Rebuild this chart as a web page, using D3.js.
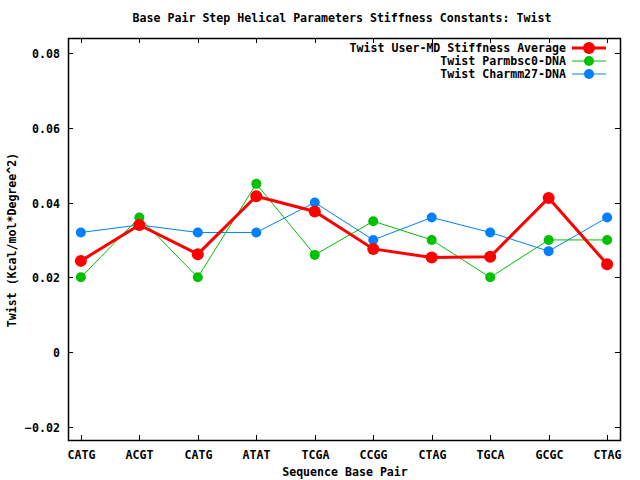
<!DOCTYPE html>
<html>
<head>
  <meta charset="utf-8">
  <style>
    body { margin: 0; background: #fff; }
    text { font-family: "DejaVu Sans Mono", monospace; font-weight: bold; font-size: 11.6px; fill: #000; }
  </style>
</head>
<body>
  <script src="https://cdn.jsdelivr.net/npm/d3@7"></script>
  <script>
    // chart data
    var categories = ["CATG", "ACGT", "CATG", "ATAT", "TCGA", "CCGG", "CTAG", "TGCA", "GCGC", "CTAG"];
    var userAvg   = [0.0244, 0.0340, 0.0262, 0.0417, 0.0376, 0.0276, 0.0253, 0.0255, 0.0412, 0.0235];
    var parmbsc0  = [0.020, 0.036, 0.020, 0.045, 0.026, 0.035, 0.030, 0.020, 0.030, 0.030];
    var charmm27  = [0.032, 0.034, 0.032, 0.032, 0.040, 0.030, 0.036, 0.032, 0.027, 0.036];
    var yTicks = [-0.02, 0, 0.02, 0.04, 0.06, 0.08];

    var series = [
      {name: "Twist User-MD Stiffness Average", values: userAvg, color: "#ff0000", width: 3, r: 6},
      {name: "Twist Parmbsc0-DNA", values: parmbsc0, color: "#00c000", width: 1, r: 5},
      {name: "Twist Charmm27-DNA", values: charmm27, color: "#0080ff", width: 1, r: 5}
    ];

    var width = 640, height = 480;
    var margin = {top: 38, right: 20, bottom: 40, left: 68};

    var svg = d3.select("body").append("svg")
      .attr("width", width)
      .attr("height", height);

    var x = d3.scaleLinear().domain([-0.22, categories.length - 1 + 0.22])
      .range([margin.left, width - margin.right]);
    var y = d3.scaleLinear().domain([-0.0235, 0.084])
      .range([height - margin.bottom, margin.top]);

    var x0 = margin.left, x1 = width - margin.right;
    var y0 = height - margin.bottom, y1 = margin.top;

    // ticks (inward, mirrored)
    var tk = svg.append("g").attr("stroke", "#000").attr("stroke-width", 1);
    yTicks.forEach(function(t) {
      var yy = Math.round(y(t)) + 0.5;
      tk.append("line").attr("x1", x0).attr("x2", x0 + 5).attr("y1", yy).attr("y2", yy);
      tk.append("line").attr("x1", x1).attr("x2", x1 - 5).attr("y1", yy).attr("y2", yy);
      svg.append("text").attr("x", 60).attr("y", yy + 4)
        .attr("text-anchor", "end").text(d3.format("")(t));
    });
    categories.forEach(function(c, i) {
      var xx = Math.round(x(i)) + 0.5;
      tk.append("line").attr("x1", xx).attr("x2", xx).attr("y1", y0).attr("y2", y0 - 5);
      tk.append("line").attr("x1", xx).attr("x2", xx).attr("y1", y1).attr("y2", y1 + 5);
      svg.append("text").attr("x", xx).attr("y", 459)
        .attr("text-anchor", "middle").text(c);
    });

    // border
    svg.append("rect")
      .attr("x", x0 + 0.5).attr("y", y1 + 0.5)
      .attr("width", x1 - x0).attr("height", y0 - y1)
      .attr("fill", "none").attr("stroke", "#000").attr("stroke-width", 1.5);

    // lines and points (draw in reverse so red is on top)
    var line = d3.line()
      .x(function(d, i) { return x(i); })
      .y(function(d) { return y(d); });

    series.slice().reverse().forEach(function(s) {
      svg.append("path")
        .datum(s.values)
        .attr("d", line)
        .attr("fill", "none")
        .attr("stroke", s.color)
        .attr("stroke-width", s.width);
      svg.selectAll(null)
        .data(s.values)
        .enter()
        .append("circle")
        .attr("cx", function(d, i) { return x(i); })
        .attr("cy", function(d) { return y(d); })
        .attr("r", s.r)
        .attr("fill", s.color);
    });

    // legend
    series.forEach(function(s, i) {
      var ly = 48 + i * 13;
      svg.append("text").attr("x", 566).attr("y", ly + 4)
        .attr("text-anchor", "end").text(s.name);
      svg.append("line").attr("x1", 572).attr("x2", 606)
        .attr("y1", ly).attr("y2", ly)
        .attr("stroke", s.color).attr("stroke-width", s.width);
      svg.append("circle").attr("cx", 589).attr("cy", ly).attr("r", s.r)
        .attr("fill", s.color);
    });

    // title and axis labels
    svg.append("text").attr("x", 342).attr("y", 22)
      .attr("text-anchor", "middle")
      .text("Base Pair Step Helical Parameters Stiffness Constants: Twist");
    svg.append("text").attr("x", 345).attr("y", 476)
      .attr("text-anchor", "middle")
      .text("Sequence Base Pair");
    svg.append("text")
      .attr("transform", "translate(16,240) rotate(-90)")
      .attr("text-anchor", "middle")
      .text("Twist (Kcal/mol*Degree^2)");
  </script>
</body>
</html>
